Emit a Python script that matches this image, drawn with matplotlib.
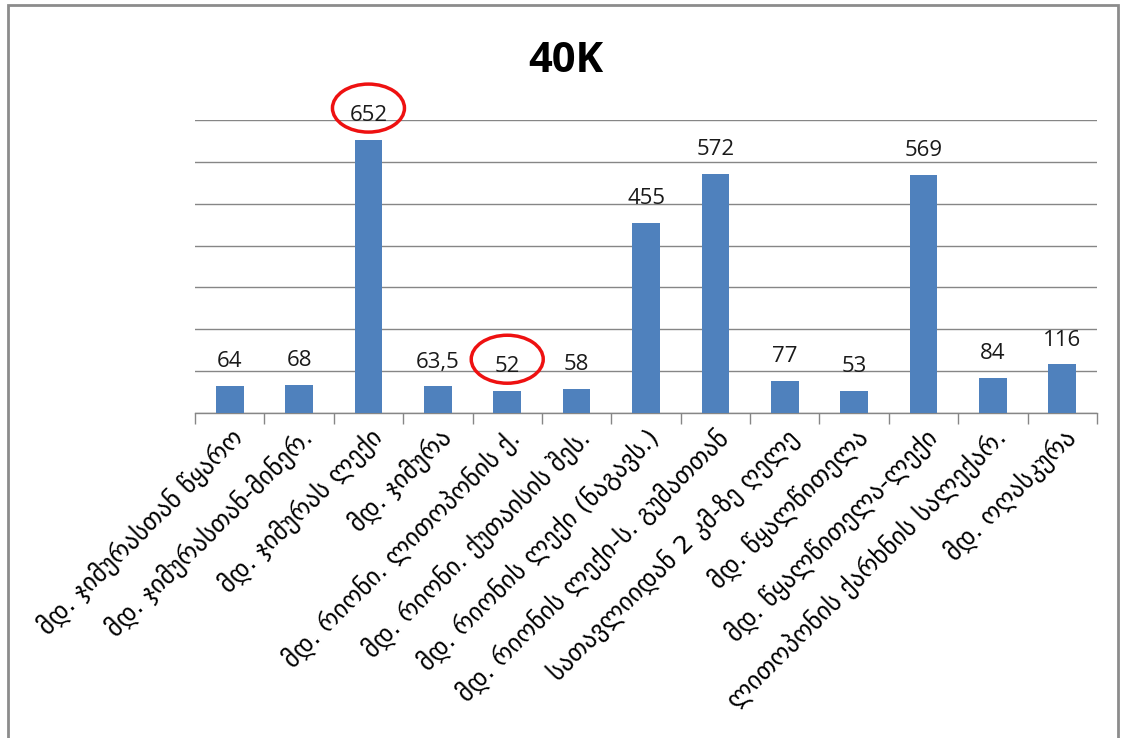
import matplotlib
matplotlib.use("Agg")
import matplotlib.pyplot as plt
from matplotlib.patches import Ellipse, Rectangle
import numpy as np

title = "40K"
categories = [
    "მდ. ჯიმურასთან წყარო",
    "მდ. ჯიმურასთან-მინერ.",
    "მდ. ჯიმურას ლექი",
    "მდ. ჯიმურა",
    "მდ. რიონი. ლითოპონის ქ.",
    "მდ. რიონი. ქუთაისის შეს.",
    "მდ. რიონის ლექი (ნაგავს.)",
    "მდ. რიონის ლექი-ს. გუმათთან",
    "სათავლიიდან 2 კმ-ზე ღელე",
    "მდ. წყალწითელა",
    "მდ. წყალწითელა-ლექი",
    "ლითოპონის ქარხნის სალექარ.",
    "მდ. ოღასკურა",
]
values = [64, 68, 652, 63.5, 52, 58, 455, 572, 77, 53, 569, 84, 116]
value_labels = ["64", "68", "652", "63,5", "52", "58", "455", "572", "77", "53", "569", "84", "116"]
circled = [2, 4]

W, H = 1123, 738
fig = plt.figure(figsize=(W / 100, H / 100), dpi=100)
fig.patch.set_facecolor("white")
ax = fig.add_axes([195 / W, 1 - 413 / H, (1097 - 195) / W, (413 - 120) / H])

x = np.arange(len(categories))
ax.bar(x, values, width=0.4, color="#4F81BD", zorder=3)
ax.set_xlim(-0.5, len(categories) - 0.5)
ax.set_ylim(0, 700)
ax.set_yticks(np.arange(0, 701, 100))
ax.yaxis.grid(True, color="#868686", linewidth=1, zorder=0)
ax.tick_params(axis="y", left=False, labelleft=False)
for s in ["left", "right", "top"]:
    ax.spines[s].set_visible(False)
ax.spines["bottom"].set_color("#868686")
ax.spines["bottom"].set_linewidth(1)

ax.set_xticks(x)
ax.set_xticklabels(categories, rotation=45, ha="right", va="top",
                   rotation_mode="anchor", fontsize=18, family=["DejaVu Sans"])
ax.tick_params(axis="x", which="major", length=0, pad=8)
ax.set_xticks(np.arange(-0.5, len(categories), 1), minor=True)
ax.tick_params(axis="x", which="minor", length=8, color="#868686", width=1, direction="out")

for i, (v, lab) in enumerate(zip(values, value_labels)):
    ax.annotate(lab, (i, v), xytext=(0, 10), textcoords="offset points",
                ha="center", va="bottom", fontsize=16, family="Open Sans", color="#1a1a1a")

fig.text(566 / W, 1 - 62 / H, title, ha="center", va="center",
         fontsize=30, fontweight="bold", family="Open Sans")

fig.canvas.draw()
for i in circled:
    cx, cy = ax.transData.transform((i, values[i]))
    e = Ellipse((cx, cy + 32), 72, 48, fill=False, edgecolor="#EE1111",
                linewidth=2.5, transform=None, zorder=10)
    fig.patches.append(e)

fig.patches.append(Rectangle((8 / W, -0.01), (1118 - 8) / W, 1 - 5 / H + 0.01,
                             transform=fig.transFigure, fill=False,
                             edgecolor="#8C8C8C", linewidth=2))

fig.savefig("out.png", dpi=100)
